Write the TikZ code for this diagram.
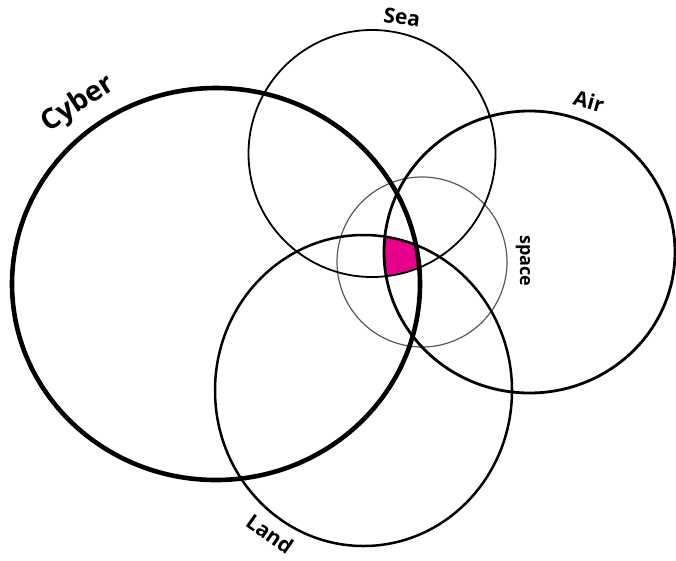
\documentclass[tikz,border=0pt]{standalone}
\usepackage{fontspec}
\setmainfont{Open Sans}
\definecolor{hot}{RGB}{230,0,140}
\begin{document}
\begin{tikzpicture}[x=1pt,y=-1pt,
  lbl/.style={inner sep=0pt, font=\bfseries\fontsize{21}{26}\selectfont}]
\useasboundingbox (0,0) rectangle (676,560);
% magenta intersection
\begin{scope}
  \clip (216,284) ellipse [x radius=204pt, y radius=196pt];
  \clip (372,153.5) circle [radius=123.5pt];
  \clip (363.5,390.5) ellipse [x radius=148.5pt, y radius=155.5pt];
  \clip (529.5,252) ellipse [x radius=145.5pt, y radius=141pt];
  \fill[hot] (422,262) circle [radius=85pt];
\end{scope}
% circles
\draw[gray!70!black, line width=1.2pt] (422,262) circle [radius=85pt];
\draw[line width=1.8pt] (372,153.5) circle [radius=123.5pt];
\draw[line width=2.5pt] (363.5,390.5) ellipse [x radius=148.5pt, y radius=155.5pt];
\draw[line width=2.8pt] (529.5,252) ellipse [x radius=145.5pt, y radius=141pt];
\draw[line width=4.6pt] (216,284) ellipse [x radius=204pt, y radius=196pt];
% labels
\node[lbl, font=\bfseries\fontsize{28}{34}\selectfont, rotate=33] (cyber) at (78,104) {Cyber};
\node[lbl, rotate=-7] (sea) at (402,17) {Sea};
\node[lbl, rotate=-16] (air) at (589,101) {Air};
\node[lbl, font=\bfseries\fontsize{18}{24}\selectfont, rotate=-90] (space) at (523,261) {space};
\node[lbl, rotate=-35] (land) at (270,534) {Land};
\end{tikzpicture}
\end{document}
